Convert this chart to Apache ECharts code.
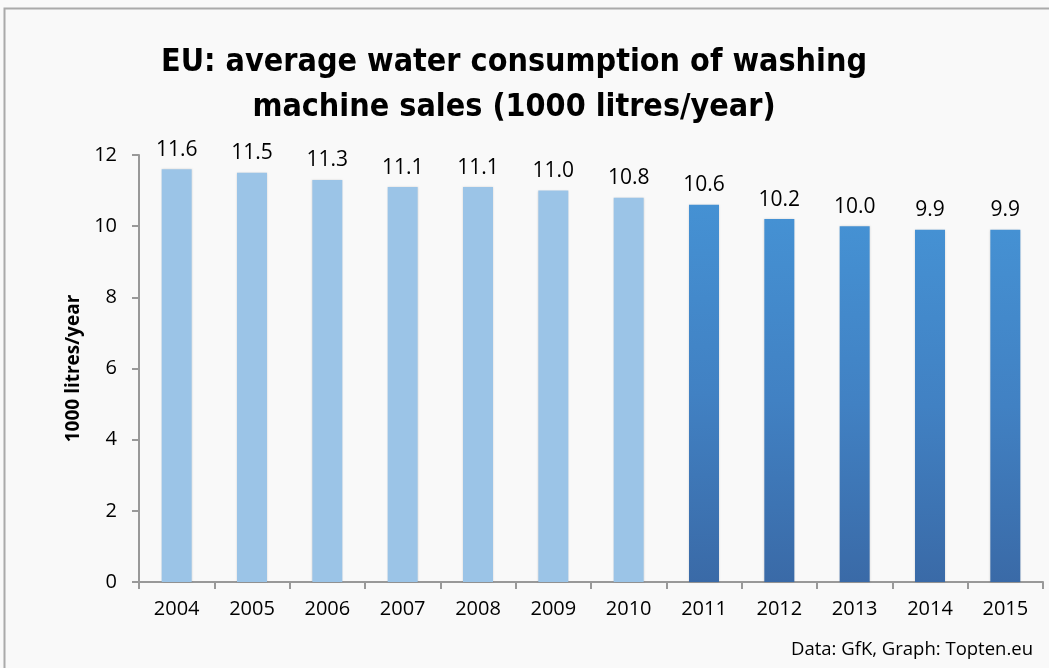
<!DOCTYPE html>
<html><head><meta charset="utf-8">
<script src="https://cdn.jsdelivr.net/npm/echarts@6/dist/echarts.min.js"></script>
<style>html,body{margin:0;padding:0;background:#fff}#c{width:1049px;height:668px}</style>
</head><body><div id="c"></div>
<script>
const years = ['2004','2005','2006','2007','2008','2009','2010','2011','2012','2013','2014','2015'];
const values = [11.6,11.5,11.3,11.1,11.1,11.0,10.8,10.6,10.2,10.0,9.9,9.9];
const yTicks = [0,2,4,6,8,10,12];
const darkFrom = '2011';

const chart = echarts.init(document.getElementById('c'));
const darkIdx = years.indexOf(darkFrom);
const light = '#9bc4e7';
const dark = new echarts.graphic.LinearGradient(0,0,0,1,[
  {offset:0,color:'#4591d3'},{offset:0.5,color:'#4181c3'},{offset:1,color:'#3a6aa7'}]);
chart.setOption({
  backgroundColor:'#f9f9f9',
  title:{text:'EU: average water consumption of washing\nmachine sales (1000 litres/year)',left:509,top:35,textAlign:'center',
    textStyle:{fontFamily:'"DejaVu Sans Condensed","Liberation Sans",sans-serif',fontWeight:'bold',fontSize:32,color:'#000',lineHeight:45}},
  graphic:[
    {type:'rect',shape:{x:4.5,y:8.5,width:1060,height:700},style:{fill:null,stroke:'#aaa',lineWidth:2},silent:true},
    {type:'text',right:16,top:640,style:{text:'Data: GfK, Graph: Topten.eu',font:'18.5px "Open Sans"',fill:'#000'}}
  ],
  grid:{left:139,right:6,top:155,bottom:86},
  xAxis:{type:'category',data:years,
    axisLine:{lineStyle:{color:'#999',width:2}},
    axisTick:{show:true,length:7,lineStyle:{color:'#999',width:2}},
    axisLabel:{color:'#000',fontSize:20,fontFamily:'Open Sans',margin:17}},
  yAxis:{type:'value',min:yTicks[0],max:yTicks[yTicks.length-1],interval:2,
    name:'1000 litres/year',nameLocation:'middle',nameGap:55,
    nameTextStyle:{fontFamily:'Open Sans',fontWeight:'bold',fontSize:19,color:'#000'},
    axisLine:{show:true,lineStyle:{color:'#999',width:2}},
    axisTick:{show:true,length:7,lineStyle:{color:'#999',width:2}},
    splitLine:{show:false},
    axisLabel:{color:'#000',fontSize:20,fontFamily:'Open Sans',margin:22}},
  series:[{type:'bar',barWidth:30,
    data:values.map((v,i)=>({value:v,itemStyle:{color:i>=darkIdx?dark:light,shadowColor:'rgba(0,0,0,0.15)',shadowBlur:2}})),
    label:{show:true,position:'top',distance:9,formatter:p=>p.value.toFixed(1),
      fontFamily:'Open Sans',fontSize:21,color:'#000'}}]
});
</script></body></html>
